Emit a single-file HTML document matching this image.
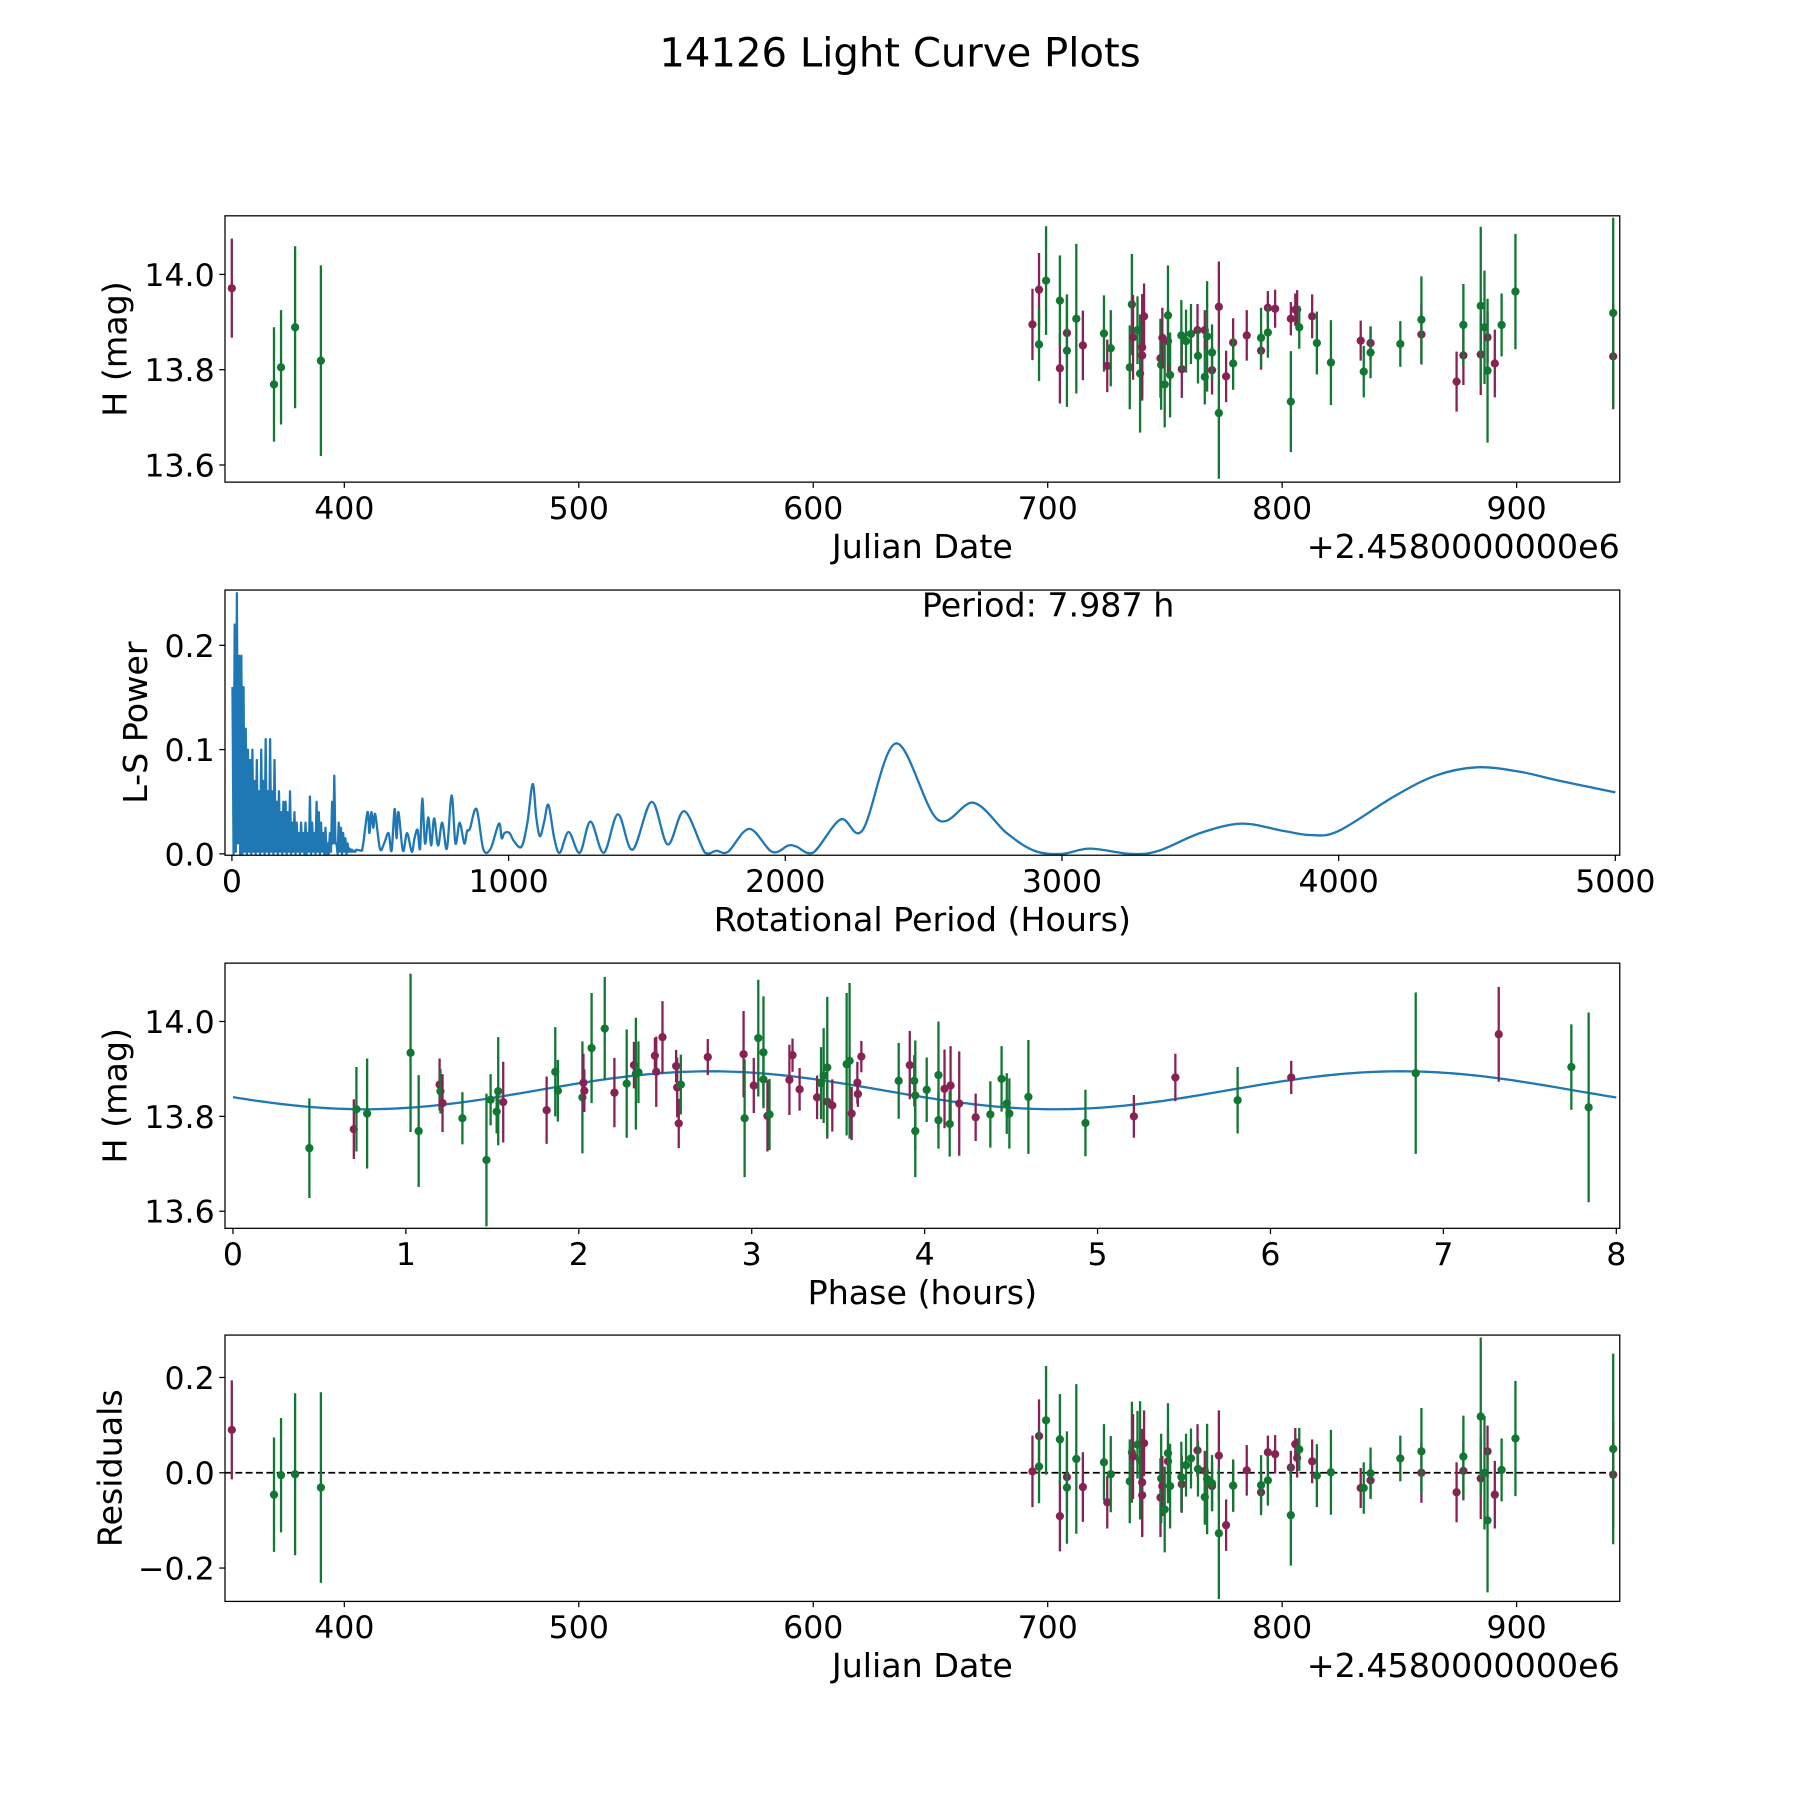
<!DOCTYPE html>
<html><head><meta charset="utf-8"><style>
html,body{margin:0;padding:0;background:#fff}
svg{display:block}
text{font-family:"DejaVu Sans","Liberation Sans",sans-serif;fill:#000}
</style></head><body>
<svg id="fig" width="1800" height="1800" viewBox="0 0 1568 1568" xmlns="http://www.w3.org/2000/svg">
<rect x="0" y="0" width="1568" height="1568" fill="#fff"/>
<text x="784" y="58" font-size="35" text-anchor="middle">14126 Light Curve Plots</text>
</svg>
<script>
// ---------- data ----------
const leftDates=[352,370,373,379,390];
const leftMags=[13.971,13.769,13.805,13.889,13.819];
const leftErrs=[0.104,0.12,0.12,0.17,0.2];
const leftBands=['m','g','g','g','g'];
const leftResid=[0.09,-0.046,-0.005,-0.003,-0.031];

const clusterDates=[693.5,696.3,696.3,699.3,705.2,705.2,708.2,708.2,712.2,715.0,724.0,725.4,726.9,735.0,735.9,736.4,738.3,739.4,740.3,740.3,741.1,748.1,748.4,748.9,749.9,751.3,751.3,752.2,757.2,757.0,759.0,761.1,763.9,764.1,767.0,767.0,768.0,770.1,770.1,773.0,773.0,776.1,779.1,779.1,784.9,791.0,791.0,793.9,793.9,797.0,803.7,803.7,805.6,806.4,807.3,812.8,814.8,820.8,833.5,834.8,837.7,837.7,850.4,859.4,859.4,874.4,877.3,877.3,884.7,884.7,886.3,887.6,887.6,890.7,893.6,899.5,941.2,941.2];
const clusterMags=[13.895,13.968,13.853,13.987,13.803,13.945,13.877,13.840,13.907,13.851,13.876,13.808,13.845,13.805,13.937,13.868,13.883,13.792,13.847,13.830,13.912,13.824,13.810,13.867,13.769,13.860,13.914,13.789,13.801,13.872,13.860,13.875,13.883,13.829,13.883,13.785,13.870,13.799,13.836,13.932,13.709,13.786,13.857,13.813,13.872,13.840,13.867,13.930,13.878,13.928,13.907,13.733,13.926,13.926,13.889,13.912,13.856,13.815,13.861,13.796,13.856,13.836,13.854,13.874,13.905,13.775,13.830,13.894,13.832,13.934,13.889,13.868,13.798,13.813,13.894,13.964,13.828,13.919];
const clusterErrs=[0.075,0.077,0.077,0.114,0.074,0.095,0.075,0.118,0.157,0.073,0.080,0.055,0.080,0.088,0.106,0.089,0.071,0.124,0.112,0.088,0.069,0.083,0.094,0.063,0.090,0.067,0.105,0.089,0.060,0.074,0.066,0.063,0.055,0.058,0.042,0.058,0.116,0.051,0.059,0.095,0.138,0.054,0.051,0.055,0.053,0.040,0.063,0.035,0.053,0.040,0.035,0.106,0.034,0.041,0.045,0.046,0.066,0.089,0.042,0.054,0.035,0.054,0.048,0.063,0.091,0.063,0.062,0.086,0.085,0.166,0.119,0.054,0.151,0.071,0.066,0.121,0.111,0.2];
const clusterBands=['m','m','g','g','m','g','m','g','g','m','g','m','g','g','g','m','g','g','m','m','m','m','g','m','g','m','g','g','m','g','g','g','m','g','m','g','g','m','g','m','g','m','m','g','m','m','g','m','g','m','m','g','m','m','g','m','g','g','m','g','m','g','g','m','g','m','m','g','m','g','g','m','g','m','g','g','m','g'];
const clusterResid=[0.003,0.077,0.013,0.110,-0.091,0.070,-0.009,-0.031,0.029,-0.030,0.022,-0.062,-0.003,-0.018,0.043,0.034,0.059,0.026,-0.020,-0.047,0.062,-0.052,-0.012,-0.028,-0.077,0.024,0.041,-0.028,-0.024,-0.009,0.016,0.030,0.047,0.008,0.004,-0.051,-0.013,-0.028,-0.022,0.036,-0.127,-0.110,-0.027,-0.027,0.005,-0.041,-0.026,0.043,-0.016,0.039,0.011,-0.089,0.060,0.031,0.049,0.024,-0.006,0.001,-0.032,-0.032,-0.016,-0.001,0.030,0.000,0.045,-0.041,0.004,0.034,-0.012,0.118,0.000,0.045,-0.100,-0.046,0.006,0.072,-0.004,0.050];

const dates=leftDates.concat(clusterDates);
const mags=leftMags.concat(clusterMags);
const errs=leftErrs.concat(clusterErrs);
const bands=leftBands.concat(clusterBands);
const resid=leftResid.concat(clusterResid);

const phases=[0.442,0.699,0.714,0.776,1.027,1.074,1.195,1.200,1.212,1.327,1.466,1.490,1.525,1.534,1.563,1.814,1.864,1.879,2.021,2.027,2.032,2.074,2.150,2.206,2.277,2.319,2.330,2.345,2.440,2.448,2.484,2.563,2.569,2.578,2.590,2.746,2.953,2.959,3.012,3.038,3.068,3.068,3.091,3.103,3.218,3.236,3.277,3.378,3.401,3.416,3.437,3.437,3.466,3.549,3.566,3.578,3.611,3.614,3.634,3.85,3.914,3.94,3.946,3.946,4.012,4.08,4.08,4.115,4.15,4.145,4.2,4.295,4.38,4.445,4.475,4.49,4.60,4.93,5.21,5.45,5.81,6.12,6.84,7.32,7.74,7.84];
const phaseMags=[13.733,13.773,13.815,13.806,13.934,13.769,13.867,13.853,13.828,13.796,13.708,13.835,13.810,13.853,13.830,13.813,13.894,13.854,13.840,13.871,13.854,13.944,13.985,13.850,13.869,13.908,13.890,13.893,13.928,13.894,13.967,13.906,13.861,13.785,13.867,13.925,13.931,13.796,13.865,13.965,13.935,13.878,13.801,13.804,13.877,13.929,13.857,13.840,13.870,13.886,13.831,13.903,13.823,13.910,13.917,13.806,13.871,13.847,13.926,13.875,13.908,13.875,13.844,13.769,13.856,13.887,13.792,13.858,13.865,13.784,13.827,13.798,13.804,13.879,13.827,13.806,13.841,13.786,13.80,13.882,13.834,13.882,13.891,13.973,13.904,13.819];
const phaseErrs=[0.105,0.063,0.089,0.116,0.167,0.118,0.055,0.047,0.061,0.055,0.140,0.054,0.046,0.114,0.085,0.071,0.094,0.065,0.118,0.061,0.045,0.116,0.109,0.073,0.114,0.049,0.118,0.065,0.038,0.074,0.076,0.034,0.063,0.052,0.063,0.038,0.091,0.124,0.058,0.123,0.118,0.056,0.075,0.075,0.074,0.035,0.045,0.046,0.076,0.100,0.078,0.149,0.055,0.150,0.164,0.056,0.044,0.027,0.033,0.08,0.072,0.054,0.116,0.097,0.068,0.113,0.06,0.083,0.083,0.069,0.11,0.05,0.07,0.069,0.064,0.074,0.12,0.07,0.045,0.05,0.07,0.035,0.17,0.1,0.09,0.2];
const phaseBands=['g','m','g','g','g','g','m','g','m','g','g','g','g','g','m','m','g','g','g','m','m','g','g','m','g','m','g','g','m','m','m','m','m','m','g','m','m','g','m','g','g','g','m','g','m','m','m','m','g','g','m','g','m','g','g','m','m','m','m','g','m','g','g','g','g','g','g','m','m','g','m','m','g','g','g','g','g','g','m','m','g','m','g','m','g','g'];

// model (sinusoid fit)
const fitMean=13.855, fitAmp=0.04, fitPeriod=3.9935, fitPeak=2.76;
const periodText='Period: 7.987 h';

// periodogram: dense part (start 2 h, step 4 h) then sampled pairs
const lsDenseStart=2, lsDenseStep=4;
const lsDensePower=[.16,0,.22,.002,.25,.01,.19,0,.19,0,.16,.002,.12,0,.1,.002,.09,0,.1,.002,.07,0,.09,.002,.06,0,.1,.002,.07,0,.11,.002,.06,0,.11,.002,.06,0,.09,.002,.05,0,.06,.002,.04,0,.05,.002,.05,0,.04,.002,.06,0,.03,.002,.04,0,.03,.002,.02,0,.03,.002,.02,0,.03,0,.02,.002,.055,0,.03,.002,.02,0,.05,.002,.04,0,.03,.002,.02,0,.025,0,.01,0,.02,.002,.05,.01,.075,.01,.01,0,.03,.002,.025,0,.02,.002,.015,0,.01,.002,.005,.002,.004,.002,.003,.002,.004];
const lsPeriods=[470,490,497,504,511,518,535,550,566,577,588,595,602,618,633,650,660,671,680,688,698,710,720,731,745,760,777,794,808,823,840,850,860,884,909,935,965,975,985,1003,1020,1047,1068,1087,1100,1113,1128,1144,1165,1185,1217,1257,1296,1344,1395,1448,1517,1575,1635,1710,1751,1793,1870,1952,2011,2040,2100,2200,2280,2400,2550,2680,2800,2900,3000,3100,3250,3350,3500,3650,3800,3900,4000,4200,4350,4500,4650,4800,5000];
const lsPower=[.003,.04,.02,.04,.025,.038,.005,.01,.02,.003,.043,.015,.04,.003,.02,.002,.015,.023,.005,.053,.01,.035,.008,.034,.008,.03,.005,.056,.01,.03,.01,.022,.024,.043,.004,.005,.029,.015,.02,.02,.012,.007,.03,.067,.035,.017,.03,.047,.015,.001,.021,.001,.031,.001,.038,.004,.05,.009,.041,.001,.003,.002,.024,.002,.008,.007,.001,.033,.023,.106,.033,.049,.02,.003,0,.005,0,.003,.02,.029,.022,.018,.022,.055,.075,.083,.079,.07,.059];

const jdTicks=[400,500,600,700,800,900];
const magTicks=[13.6,13.8,14.0];
const lsXTicks=[0,1000,2000,3000,4000,5000];
const lsYTicks=[0,0.1,0.2];
const phaseTicks=[0,1,2,3,4,5,6,7,8];
const residTicks=[-0.2,0,0.2];

// ---------- drawing ----------
const NS='http://www.w3.org/2000/svg';
const svg=document.getElementById('fig');
const COL={m:'#882255',g:'#117733'};
const TICK_FS=27.5, LABEL_FS=29;
function mk(tag,attrs,parent){const e=document.createElementNS(NS,tag);for(const k in attrs)e.setAttribute(k,attrs[k]);(parent||svg).appendChild(e);return e;}
function lin(d0,d1,r0,r1){return v=>r0+(v-d0)*(r1-r0)/(d1-d0);}

function axes(name,box,xd,yd,xt,yt,xfmt,yfmt,xlabel,ylabel,ylabelX,offset){
  const g=mk('g',{});
  
  
  const sx=lin(xd[0],xd[1],box.x0,box.x1), sy=lin(yd[0],yd[1],box.y1,box.y0);
  const cid='clip-'+name;
  const cp=mk('clipPath',{id:cid},g);mk('rect',{x:box.x0,y:box.y0,width:box.x1-box.x0,height:box.y1-box.y0},cp);
  const plot=mk('g',{'clip-path':'url(#'+cid+')'},g);
  
  
  xt.forEach(v=>{const x=sx(v);
    mk('line',{x1:x,x2:x,y1:box.y1,y2:box.y1+5,stroke:'#000','stroke-width':1.1},g);
    const t=mk('text',{x:x,y:box.y1+32,'font-size':TICK_FS,'text-anchor':'middle'},g);t.textContent=xfmt(v);
    
    });
  yt.forEach(v=>{const y=sy(v);
    mk('line',{x1:box.x0-5,x2:box.x0,y1:y,y2:y,stroke:'#000','stroke-width':1.1},g);
    const t=mk('text',{x:box.x0-9,y:y+10,'font-size':TICK_FS,'text-anchor':'end'},g);t.textContent=yfmt(v);
    
    });
  const xl=mk('text',{x:(box.x0+box.x1)/2,y:box.y1+66,'font-size':LABEL_FS,'text-anchor':'middle'},g);xl.textContent=xlabel;
  
  
  const yl=mk('text',{x:0,y:0,'font-size':LABEL_FS,'text-anchor':'middle',transform:`translate(${ylabelX},${(box.y0+box.y1)/2}) rotate(-90)`},g);yl.textContent=ylabel;
  
  
  if(offset){const o=mk('text',{x:box.x1,y:box.y1+66,'font-size':LABEL_FS,'text-anchor':'end'},g);o.textContent=offset;
    
    }
  const fr=mk('rect',{x:box.x0,y:box.y0,width:box.x1-box.x0,height:box.y1-box.y0,fill:'none',stroke:'#000','stroke-width':1.1},g);
  
  
  return {sx,sy,plot};
}
function errPoints(ax,xs,ys,es,bs,name){
  xs.forEach((xv,i)=>{
    const x=ax.sx(xv),c=COL[bs[i]];
    const l=mk('line',{x1:x,x2:x,y1:ax.sy(ys[i]-es[i]),y2:ax.sy(ys[i]+es[i]),stroke:c,'stroke-width':2},ax.plot);
    
    
    const p=mk('circle',{cx:x,cy:ax.sy(ys[i]),r:3.6,fill:c},ax.plot);
    
    
  });
}
const f1=v=>v.toFixed(1), f0=v=>String(v), resf=v=>(v<0?'\u22120.2':v.toFixed(1));

// Panel 1
const A1=axes('light-curve-panel',{x0:196,x1:1411,y0:188,y1:420},[349.1,944],[13.564,14.123],jdTicks,magTicks,f0,f1,'Julian Date','H (mag)',110,'+2.4580000000e6');
errPoints(A1,dates,mags,errs,bands,'magnitude');

// Panel 2
const A2=axes('periodogram-panel',{x0:196,x1:1411,y0:514,y1:745},[-25,5016],[-0.0013,0.253],lsXTicks,lsYTicks,f0,f1,'Rotational Period (Hours)','L-S Power',128,null);
(function(){
  let d='';
  lsDensePower.forEach((p,i)=>{const x=A2.sx(lsDenseStart+lsDenseStep*i),y=A2.sy(p);d+=(i?'L':'M')+x.toFixed(2)+','+y.toFixed(2);});
  const pts=lsPeriods.map((p,i)=>[A2.sx(p),A2.sy(lsPower[i])]);
  const lastD=[A2.sx(lsDenseStart+lsDenseStep*(lsDensePower.length-1)),A2.sy(lsDensePower[lsDensePower.length-1])];
  const all=[lastD].concat(pts);
  d+='L'+pts[0][0].toFixed(2)+','+pts[0][1].toFixed(2);
  for(let i=1;i<all.length-1;i++){
    const p0=all[i-1],p1=all[i],p2=all[i+1],p3=all[Math.min(i+2,all.length-1)];
    const c1=[p1[0]+(p2[0]-p0[0])/6,p1[1]+(p2[1]-p0[1])/6],c2=[p2[0]-(p3[0]-p1[0])/6,p2[1]-(p3[1]-p1[1])/6];
    d+='C'+c1[0].toFixed(2)+','+Math.min(c1[1],745).toFixed(2)+' '+c2[0].toFixed(2)+','+Math.min(c2[1],745).toFixed(2)+' '+p2[0].toFixed(2)+','+p2[1].toFixed(2);
  }
  const path=mk('path',{d:d,fill:'none',stroke:'#1f77b4','stroke-width':2,'stroke-linejoin':'round'},A2.plot);
  
  
  const t=mk('text',{x:913,y:537,'font-size':LABEL_FS,'text-anchor':'middle'});t.textContent=periodText;
  
  
})();

// Panel 3
const A3=axes('phase-panel',{x0:196,x1:1411,y0:839,y1:1070},[-0.046,8.02],[13.564,14.123],phaseTicks,magTicks,f0,f1,'Phase (hours)','H (mag)',110,null);
(function(){
  let d='';
  for(let i=0;i<=320;i++){const ph=8*i/320;const m=fitMean+fitAmp*Math.cos(2*Math.PI*(ph-fitPeak)/fitPeriod);d+=(i?'L':'M')+A3.sx(ph).toFixed(2)+','+A3.sy(m).toFixed(2);}
  const c=mk('path',{d:d,fill:'none',stroke:'#1f77b4','stroke-width':2},A3.plot);
  
  
})();
errPoints(A3,phases,phaseMags,phaseErrs,phaseBands,'phased');

// Panel 4
const A4=axes('residuals-panel',{x0:196,x1:1411,y0:1163,y1:1395},[349.1,944],[-0.270,0.289],jdTicks,residTicks,f0,resf,'Julian Date','Residuals',106,'+2.4580000000e6');
(function(){
  const z=mk('line',{x1:196,x2:1411,y1:A4.sy(0),y2:A4.sy(0),stroke:'#000','stroke-width':1.6,'stroke-dasharray':'6,3'},A4.plot);
  
  
})();
errPoints(A4,dates,resid,errs,bands,'residual');
</script>
</body></html>
